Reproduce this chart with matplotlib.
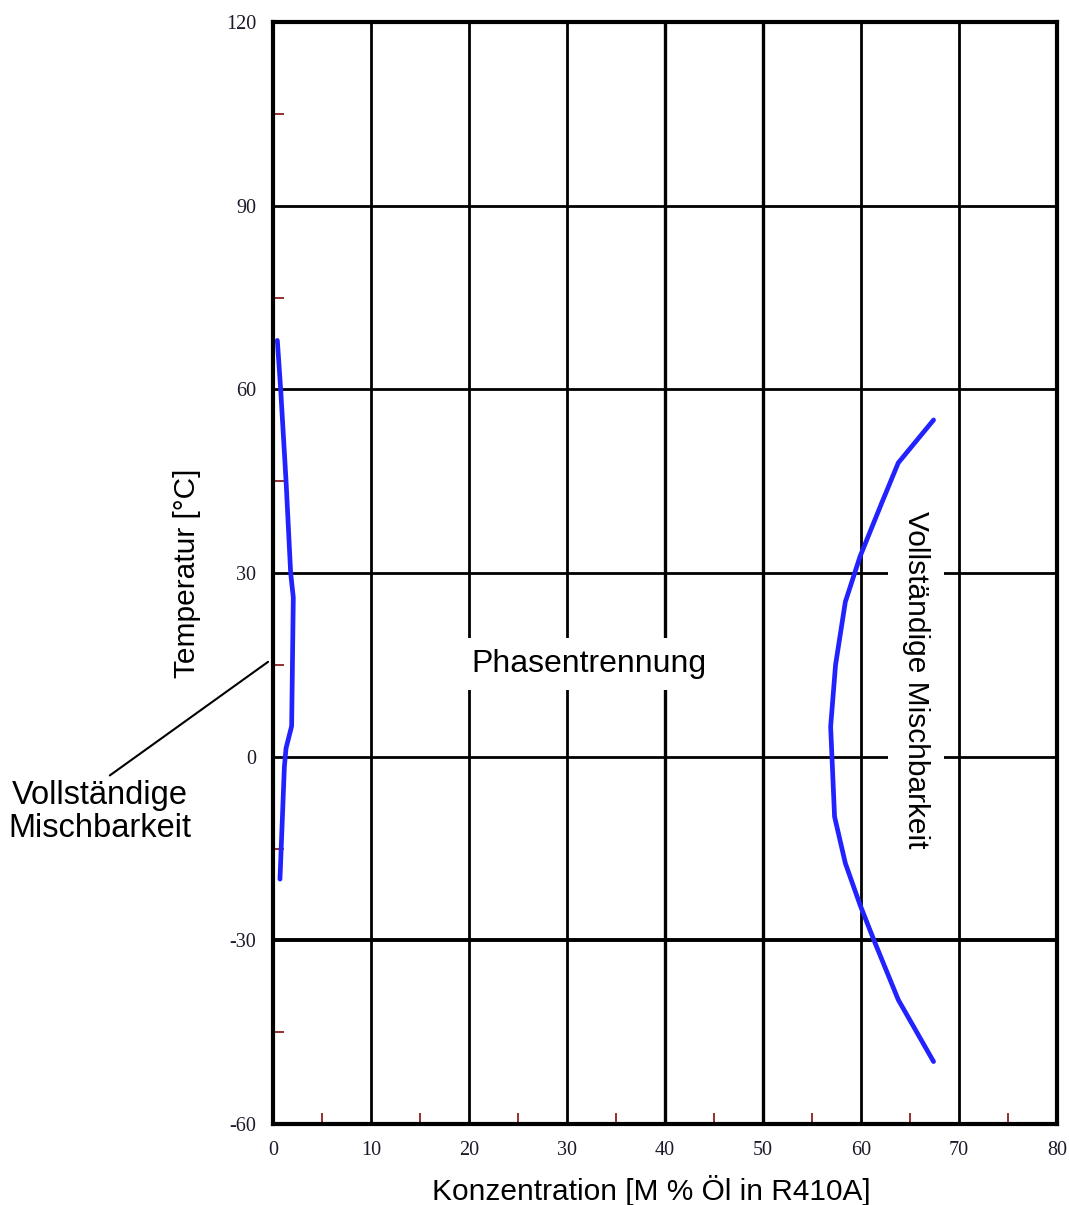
import matplotlib.pyplot as plt

plt.rcParams['axes.unicode_minus'] = False

# Mischungslücke R410A / Öl
left_x = [0.44, 0.78, 1.33, 1.8, 2.07, 1.9, 1.33, 1.16, 0.71]
left_t = [68, 60, 45, 30, 26, 5, 1.4, -1.6, -20]

right_x = [67.4, 63.8, 62.1, 59.9, 58.4, 57.4, 56.9, 57.3, 58.4, 59.9, 61.3, 63.8, 67.4]
right_t = [55, 48, 41.4, 32.7, 25.3, 15, 4.9, -9.8, -17.4, -24.2, -29.9, -39.7, -49.8]

x_ticks = [0, 10, 20, 30, 40, 50, 60, 70, 80]
y_ticks = [-60, -30, 0, 30, 60, 90, 120]
x_minor = [5, 15, 25, 35, 45, 55, 65, 75]
y_minor = [105, 75, 45, 15, -15, -45]

fig = plt.figure(figsize=(10.69, 12.05), dpi=100)
ax = fig.add_axes([0.2554, 0.0672, 0.7334, 0.9145])

ax.set_xlim(0, 80)
ax.set_ylim(-60, 120)

# Gitter
for xv in x_ticks[1:-1]:
    lw = 2.4 if xv in (40, 50) else 2.0
    ax.axvline(xv, color='black', lw=lw, zorder=1)
for yv in y_ticks[1:-1]:
    lw = 2.8 if yv == -30 else 2.0
    ax.axhline(yv, color='black', lw=lw, zorder=1)

for s in ax.spines.values():
    s.set_linewidth(3)
    s.set_zorder(2)

ax.plot(left_x, left_t, color='#2222ff', lw=3.4, zorder=4, solid_capstyle='round')
ax.plot(right_x, right_t, color='#2222ff', lw=3.4, zorder=4, solid_capstyle='round')

ax.set_xticks(x_ticks)
ax.set_yticks(y_ticks)
ax.set_xticks(x_minor, minor=True)
ax.set_yticks(y_minor, minor=True)
ax.tick_params(which='major', length=0, pad=12, labelsize=14.5,
               labelfontfamily='Liberation Serif', labelcolor='#1a1a2a')
ax.tick_params(which='minor', length=8, width=1.3, color='#8b2020', direction='in')

ax.set_xlabel('Konzentration [M % Öl in R410A]', fontsize=21.5, family='Liberation Sans')
ax.set_ylabel('Temperatur [°C]', fontsize=21.5, family='Liberation Sans')
ax.xaxis.set_label_coords(0.483, -0.046)
ax.yaxis.set_label_coords(-0.092, 0.5)

ax.text(32.2, 15.1, 'Phasentrennung', fontsize=23, family='Liberation Sans',
        ha='center', va='center', zorder=3,
        bbox=dict(facecolor='white', edgecolor='none', pad=8))
ax.text(65.6, 12.5, 'Vollständige Mischbarkeit', fontsize=21.5, family='Liberation Sans',
        rotation=-90, ha='center', va='center', zorder=3,
        bbox=dict(facecolor='white', edgecolor='none', pad=10))

ax.annotate('Vollständige\nMischbarkeit', xy=(-0.5, 15.5), xycoords='data',
            xytext=(-0.2207, 0.2831), textcoords='axes fraction',
            fontsize=23.5, family='Liberation Sans', ha='center', va='center',
            linespacing=1.1, annotation_clip=False,
            arrowprops=dict(arrowstyle='-', color='black', lw=1.5,
                            relpos=(0.52, 1.0), shrinkA=2, shrinkB=0))

fig.savefig('out.png', dpi=100)
